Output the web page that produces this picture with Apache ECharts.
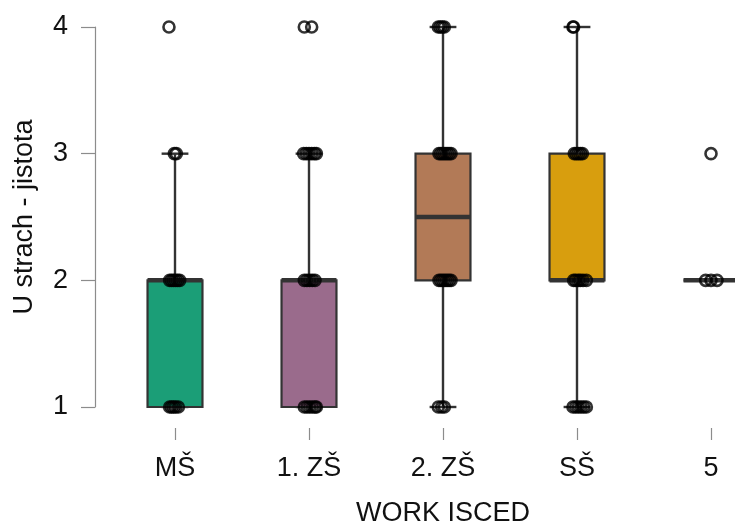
<!DOCTYPE html>
<html>
<head>
<meta charset="utf-8">
<script src="https://cdn.jsdelivr.net/npm/echarts@6/dist/echarts.min.js"></script>
<style>
html,body{margin:0;padding:0;background:#fff;}
#chart{width:735px;height:522px;}
</style>
</head>
<body>
<div id="chart"></div>
<script>
// ---- data ----
var categories = ["MŠ", "1. ZŠ", "2. ZŠ", "SŠ", "5"];
var boxColors = ["#1B9E77", "#9A6B8C", "#B27A57", "#D89E0E", "#666666"];
var boxMin = [1, 1, 1, 1, 2];
var boxQ1  = [1, 1, 2, 2, 2];
var boxMed = [2, 2, 2.5, 2, 2];
var boxQ3  = [2, 2, 3, 3, 2];
var boxMax = [3, 3, 4, 4, 2];
var yTicks = [1, 2, 3, 4];

// jittered observations: category index, horizontal jitter (in category units), value
var pointCat = [
  0, 0, 0, 0, 0, 0, 0, 0, 0, 0, 0, 0, 0, 0,
  1, 1, 1, 1, 1, 1, 1, 1, 1, 1, 1, 1, 1, 1, 1, 1, 1, 1, 1,
  2, 2, 2, 2, 2, 2, 2, 2, 2, 2, 2, 2, 2, 2, 2, 2, 2, 2, 2, 2, 2,
  3, 3, 3, 3, 3, 3, 3, 3, 3, 3, 3, 3, 3, 3, 3, 3, 3, 3, 3,
  4, 4, 4, 4
];
var pointValue = [
  4, 3, 3, 2, 2, 2, 2, 2, 2, 1, 1, 1, 1, 1,
  4, 4, 3, 3, 3, 3, 3, 3, 2, 2, 2, 2, 2, 1, 1, 1, 1, 1, 1,
  4, 4, 4, 4, 3, 3, 3, 3, 3, 3, 3, 2, 2, 2, 2, 2, 2, 2, 1, 1, 1,
  4, 4, 3, 3, 3, 3, 3, 2, 2, 2, 2, 2, 2, 1, 1, 1, 1, 1, 1,
  3, 2, 2, 2
];
var pointJitter = [
  -0.045, -0.005, 0.01, -0.04, -0.025, -0.01, 0.005, 0.02, 0.035, -0.04, -0.025, -0.01, 0.005, 0.025,
  -0.035, 0.02, -0.04, -0.02, 0.0, 0.02, 0.04, 0.055, -0.035, -0.015, 0.005, 0.025, 0.045, -0.035, -0.015, 0.005, 0.025, 0.045, 0.055,
  -0.035, -0.02, -0.005, 0.01, -0.03, -0.015, 0.0, 0.015, 0.03, 0.045, 0.06, -0.03, -0.015, 0.0, 0.015, 0.03, 0.045, 0.06, -0.035, -0.01, 0.01,
  -0.03, -0.025, -0.02, -0.005, 0.01, 0.025, 0.04, -0.025, -0.01, 0.01, 0.025, 0.045, 0.07, -0.03, -0.01, 0.01, 0.03, 0.05, 0.07,
  0.0, -0.04, 0.0, 0.045
];

// ---- build ----
var boxData = categories.map(function (c, i) {
  return [i, boxMin[i], boxQ1[i], boxMed[i], boxQ3[i], boxMax[i]];
});
var pointData = pointCat.map(function (c, k) {
  return [c + pointJitter[k], pointValue[k]];
});

var FONT = '"Liberation Sans", Arial, Helvetica, sans-serif';
var AXIS_GRAY = '#8c8c8c';
var TEXT = '#111111';
var BOX_HALF = 0.205, CAP_HALF = 0.1;

var chart = echarts.init(document.getElementById('chart'), null, {renderer: 'canvas'});
chart.setOption({
  animation: false,
  backgroundColor: '#ffffff',
  grid: {left: 108, width: 670, top: 27, bottom: 115, containLabel: false, outerBoundsMode: 'none'},
  xAxis: [{
    type: 'category',
    data: categories,
    offset: 21,
    boundaryGap: true,
    name: 'WORK ISCED',
    nameLocation: 'middle',
    nameGap: 72,
    nameTextStyle: {fontFamily: FONT, fontSize: 27, color: TEXT},
    axisLine: {show: false},
    axisTick: {show: true, alignWithLabel: true, length: 12, lineStyle: {color: AXIS_GRAY, width: 1.2}},
    axisLabel: {margin: 27, fontFamily: FONT, fontSize: 27, color: TEXT},
    splitLine: {show: false}
  }, {
    type: 'value',
    min: -0.5,
    max: 4.5,
    show: false
  }],
  yAxis: {
    type: 'value',
    min: 1,
    max: 4,
    interval: 1,
    offset: 13,
    name: 'U strach - jistota',
    nameLocation: 'middle',
    nameGap: 57,
    nameRotate: 90,
    nameTextStyle: {fontFamily: FONT, fontSize: 27, color: TEXT},
    axisLine: {show: true, onZero: false, lineStyle: {color: AXIS_GRAY, width: 1.2}},
    axisTick: {show: true, length: 14, lineStyle: {color: AXIS_GRAY, width: 1.2}},
    axisLabel: {margin: 27, fontFamily: FONT, fontSize: 27, color: TEXT,
      formatter: function (v) { return yTicks.indexOf(v) >= 0 ? String(v) : ''; }},
    splitLine: {show: false}
  },
  series: [{
    type: 'custom',
    xAxisIndex: 1,
    yAxisIndex: 0,
    clip: false,
    z: 2,
    data: boxData,
    renderItem: function (params, api) {
      var i = api.value(0);
      var vMin = api.value(1), q1 = api.value(2), med = api.value(3), q3 = api.value(4), vMax = api.value(5);
      var pMin = api.coord([i, vMin]), pMax = api.coord([i, vMax]);
      var pQ1L = api.coord([i - BOX_HALF, q1]), pQ3R = api.coord([i + BOX_HALF, q3]);
      var pMedL = api.coord([i - BOX_HALF, med]), pMedR = api.coord([i + BOX_HALF, med]);
      var capL = api.coord([i - CAP_HALF, vMin])[0], capR = api.coord([i + CAP_HALF, vMin])[0];
      var lineStyle = {stroke: '#333333', lineWidth: 2.4, fill: null};
      var children = [
        {type: 'line', shape: {x1: pMin[0], y1: pMin[1], x2: pMax[0], y2: pMax[1]}, style: lineStyle},
        {type: 'line', shape: {x1: capL, y1: pMin[1], x2: capR, y2: pMin[1]}, style: lineStyle},
        {type: 'line', shape: {x1: capL, y1: pMax[1], x2: capR, y2: pMax[1]}, style: lineStyle},
        {type: 'rect', shape: {x: pQ1L[0], y: pQ3R[1], width: pQ3R[0] - pQ1L[0], height: pQ1L[1] - pQ3R[1]},
          style: {fill: boxColors[i], stroke: '#333333', lineWidth: 2.2}},
        {type: 'line', shape: {x1: pMedL[0], y1: pMedL[1], x2: pMedR[0], y2: pMedR[1]},
          style: {stroke: '#333333', lineWidth: 4.5}}
      ];
      return {type: 'group', children: children};
    }
  }, {
    type: 'scatter',
    xAxisIndex: 1,
    yAxisIndex: 0,
    clip: false,
    z: 3,
    symbol: 'circle',
    symbolSize: 11,
    itemStyle: {color: 'rgba(0,0,0,0)', borderColor: '#000000', borderWidth: 2.6},
    data: pointData
  }]
});
</script>
</body>
</html>
